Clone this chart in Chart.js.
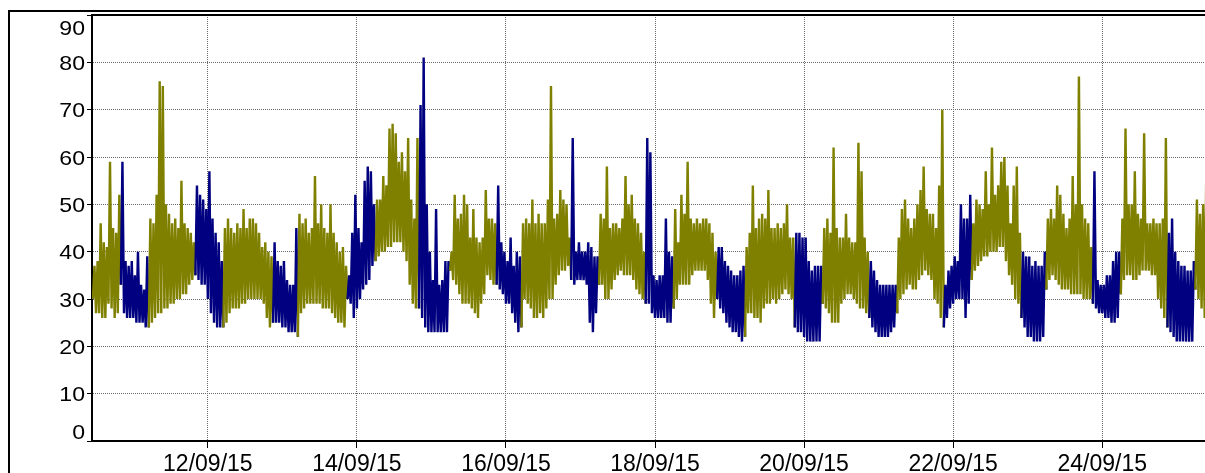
<!DOCTYPE html>
<html>
<head>
<meta charset="utf-8">
<script src="https://cdn.jsdelivr.net/npm/chart.js@4.4.1/dist/chart.umd.min.js"></script>
<style>
  html, body { margin: 0; padding: 0; background: #fff; overflow: hidden; }
  #wrap { position: relative; width: 1205px; height: 473px; }
</style>
</head>
<body>
<div id="wrap"><canvas id="chart" width="1205" height="473"></canvas></div>
<script>
// One row per 12 hours; first hour is 10/09/15 11:00 (hours counted from 12/09/15 00:00)
const startHour = -37;
// lowest reading within each hour
const hourLow = [
  30,27,27,26,26,29,28,26,27,33,27,26,
  26,26,25,25,25,24,24,25,26,27,27,28,
  28,29,29,30,30,31,31,33,34,35,34,33,
  33,30,27,25,24,24,24,25,27,28,28,28,
  29,29,30,30,30,30,30,29,26,24,25,25,
  25,24,24,23,23,23,22,27,28,29,29,29,
  29,29,28,28,28,27,26,25,25,24,30,29,
  26,28,30,32,33,34,37,38,39,40,40,41,
  41,42,42,42,40,38,33,29,28,28,26,24,
  23,23,23,23,23,23,23,36,34,33,31,29,
  29,29,28,27,26,29,31,35,34,33,33,32,
  31,29,29,27,25,23,24,30,29,28,26,26,
  27,26,28,30,30,33,35,36,36,37,34,33,
  34,34,34,33,25,23,27,33,33,30,30,32,
  34,35,36,35,35,35,34,32,31,30,29,29,
  27,26,26,26,26,25,25,28,30,33,33,33,
  33,35,36,36,36,36,34,29,26,30,28,27,
  25,24,23,23,22,21,22,27,27,26,26,25,
  28,29,29,30,29,30,31,32,31,30,24,23,
  23,22,21,21,21,21,21,29,28,27,25,25,
  25,29,30,31,31,30,29,28,28,27,26,24,
  23,22,22,22,22,23,24,27,30,31,32,33,
  32,32,34,35,36,35,34,30,29,26,24,26,
  28,29,30,30,30,26,29,34,36,37,38,39,
  39,40,40,40,41,41,38,35,33,30,29,26,
  24,22,22,21,21,21,22,32,34,35,34,33,
  32,32,32,31,31,31,31,30,30,30,29,28,
  27,27,26,26,25,25,26,31,34,35,35,34,
  34,35,36,36,36,35,35,30,28,26,24,23,
  22,21,21,21,21,21,21,32,30,28,26,27
];
// highest reading within each hour
const hourHigh = [
  37,38,46,42,41,59,45,44,52,59,38,37,
  38,35,40,33,32,39,47,46,52,76,75,50,
  48,46,47,45,55,46,45,44,42,54,52,51,
  49,57,47,44,42,38,45,47,45,44,46,45,
  49,45,47,47,46,44,41,42,40,39,42,38,
  37,38,34,33,33,45,48,46,47,44,45,56,
  46,50,45,44,50,44,42,40,41,37,35,44,
  52,45,42,55,58,57,50,51,51,56,54,66,
  67,65,59,61,57,64,51,47,64,71,81,50,
  40,34,49,33,34,38,38,40,52,47,48,52,
  50,43,49,43,42,43,53,47,47,46,54,42,
  40,38,43,37,40,39,46,47,46,51,46,48,
  46,46,51,75,47,48,53,51,50,43,64,40,
  42,40,40,42,41,39,39,48,47,58,45,46,
  46,45,47,56,50,52,47,46,44,40,64,61,
  35,34,35,35,47,40,39,49,42,52,48,59,
  47,46,47,46,47,47,46,44,40,41,41,38,
  37,36,35,35,36,37,41,44,54,45,47,48,
  47,53,45,45,46,45,46,50,43,43,44,44,
  43,43,38,36,37,37,37,45,47,44,62,45,
  43,43,48,43,42,42,63,57,43,40,38,36,
  34,33,33,33,33,33,33,43,49,51,47,45,
  47,50,53,58,49,48,48,45,54,70,33,36,
  37,39,38,50,47,47,52,46,51,50,49,57,
  50,62,52,54,59,60,54,46,54,58,44,40,
  39,39,37,38,37,37,40,47,49,47,54,52,
  48,45,47,56,50,77,50,47,46,41,57,34,
  33,33,35,35,38,40,40,47,66,50,50,57,
  48,47,65,46,46,47,46,46,47,64,44,47,
  40,38,37,37,36,36,38,51,48,50,56,45
];
// Hour index ranges (inclusive) drawn in the night colour
const nightRanges = [
  [9,17],[33,41],[58,65],[82,90],[105,114],[130,137],[154,162],[178,186],
  [201,209],[226,234],[250,258],[274,282],[299,306],[322,330],[346,354]
];
const tickHours = [0, 48, 96, 144, 192, 240, 288];
const tickLabels = ['12/09/15','14/09/15','16/09/15','18/09/15','20/09/15','22/09/15','24/09/15'];
const yMin = 0, yMax = 90, yStep = 10;
const axisStartHour = -37.3, axisEndHour = 321.1;

const DAY_COLOR = '#808000';
const NIGHT_COLOR = '#000080';
const FONT = "'Liberation Sans', Arial, sans-serif";

const isNight = h => nightRanges.some(([a, b]) => h >= a && h <= b);

// each hour is traced from its low to its high reading
const points = [];
hourLow.forEach((lo, h) => {
  points.push({ x: startHour + h, y: lo });
  points.push({ x: startHour + h + 0.5, y: hourHigh[h] });
});

const framePlugin = {
  id: 'framePlugin',
  beforeDraw(chart) {
    const ctx = chart.ctx;
    ctx.save();
    ctx.fillStyle = '#fff';
    ctx.fillRect(0, 0, chart.width, chart.height);
    ctx.strokeStyle = '#000';
    ctx.lineWidth = 2;
    ctx.strokeRect(9, 11, chart.width + 50, chart.height + 50);
    ctx.restore();
  },
  afterDraw(chart) {
    const ctx = chart.ctx;
    const area = chart.chartArea;
    const ys = chart.scales.y;
    ctx.save();
    // top edge of the plot frame
    ctx.strokeStyle = '#000';
    ctx.lineWidth = 2;
    ctx.beginPath();
    ctx.moveTo(area.left - 1, area.top);
    ctx.lineTo(area.right + 5, area.top);
    ctx.stroke();
    // value labels, kept inside the frame at both ends
    ctx.fillStyle = '#000';
    ctx.font = '21px ' + FONT;
    ctx.textAlign = 'right';
    ctx.textBaseline = 'middle';
    ys.ticks.forEach(t => {
      let y = ys.getPixelForValue(t.value) + 2;
      y = Math.max(area.top + 14, Math.min(area.bottom - 7.5, y));
      ctx.save();
      ctx.translate(85, y);
      ctx.scale(1.1, 1);
      ctx.fillText(String(t.value), 0, 0);
      ctx.restore();
    });
    ctx.restore();
  }
};

new Chart(document.getElementById('chart'), {
  type: 'line',
  data: {
    datasets: [{
      data: points,
      borderColor: DAY_COLOR,
      borderWidth: 2.4,
      borderJoinStyle: 'miter',
      pointRadius: 0,
      tension: 0,
      fill: false,
      segment: {
        borderColor: c => isNight(Math.floor(c.p0DataIndex / 2)) ? NIGHT_COLOR : DAY_COLOR
      }
    }]
  },
  options: {
    responsive: false,
    animation: false,
    devicePixelRatio: 1,
    layout: { padding: { left: 0, top: 15, right: 0, bottom: 0 } },
    plugins: { legend: { display: false }, tooltip: { enabled: false } },
    scales: {
      x: {
        type: 'linear',
        min: axisStartHour,
        max: axisEndHour,
        afterBuildTicks: s => { s.ticks = tickHours.map(v => ({ value: v })); },
        afterFit: s => { s.height = 32; },
        ticks: {
          autoSkip: false,
          maxRotation: 0,
          padding: 3,
          color: '#000',
          font: { family: FONT, size: 23 },
          callback: (v, i) => tickLabels[i]
        },
        grid: {
          color: '#6a6a6a',
          lineWidth: 1,
          tickColor: '#000',
          tickLength: 7,
          tickWidth: 1,
          tickBorderDash: []
        },
        border: { display: true, color: '#000', width: 2, dash: [1, 1] }
      },
      y: {
        min: yMin,
        max: yMax,
        afterFit: s => { s.width = 92; },
        ticks: { stepSize: yStep, display: false },
        grid: {
          color: '#6a6a6a',
          lineWidth: 1,
          tickColor: '#000',
          tickLength: 5,
          tickWidth: 1,
          tickBorderDash: []
        },
        border: { display: true, color: '#000', width: 2, dash: [1, 1] }
      }
    }
  },
  plugins: [framePlugin]
});
</script>
</body>
</html>
